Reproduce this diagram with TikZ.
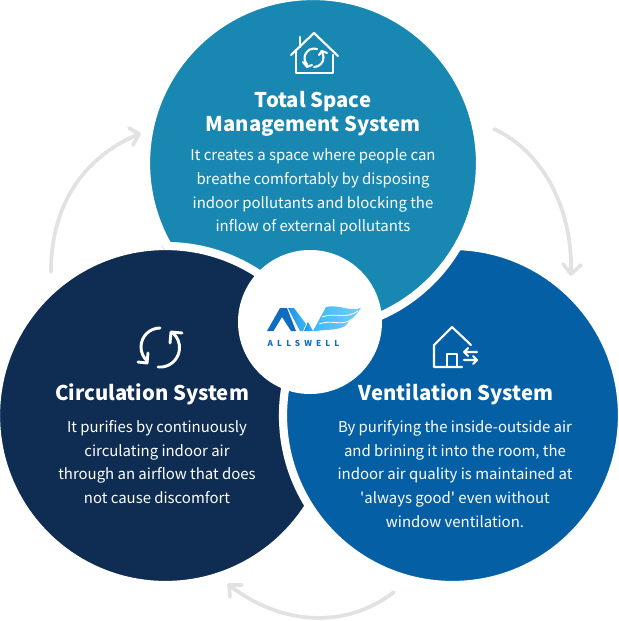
\documentclass[tikz,border=0pt]{standalone}
\usepackage{fontspec}
\setmainfont[Ligatures=TeXOff]{Noto Sans CJK KR}
\definecolor{topblue}{HTML}{1888B2}
\definecolor{darknavy}{HTML}{0F2D52}
\definecolor{midblue}{HTML}{045FA4}
\definecolor{arcgray}{HTML}{E2E2E2}
\definecolor{logoblue}{HTML}{0F6CC0}
\definecolor{logosky}{HTML}{3CB8F5}
\definecolor{logomid}{HTML}{1E90E6}
\tikzset{
    bigcircle/.style={circle, draw=white, line width=7pt, minimum size=#1, inner sep=0pt},
    titletext/.style={text=white, align=center, font=\fontsize{17.3}{20.4}\selectfont\bfseries},
    bodytext/.style={text=white, align=center, font=\fontsize{12.75}{20.35}\selectfont},
    cyclearc/.style={draw=arcgray, line width=3.2pt, line cap=round, line join=round},
    iconline/.style={draw=white, line width=1.8pt, line cap=round, line join=round},
    iconthick/.style={draw=white, line width=2.5pt, line cap=round, line join=round}
}
\begin{document}
\begin{tikzpicture}[x=0.03cm,y=-0.03cm]
    \useasboundingbox (0,0) rectangle (618,621);

    % The three circles, each one lying over the next
    \node[bigcircle=10.17cm, fill=darknavy] (leftcircle) at (165.5,415.5) {};
    \node[bigcircle=10.17cm, fill=midblue] (rightcircle) at (452.5,415.5) {};
    \node[bigcircle=10.02cm, fill=topblue] (topcircle) at (313,163) {};
    \begin{scope}
        \clip (313,163) circle (172);
        \node[bigcircle=10.17cm, fill=darknavy] (leftover) at (165.5,415.5) {};
    \end{scope}
    \node[circle, fill=white, minimum size=4.32cm, inner sep=0pt] (logocircle) at (310,322) {};

    % Grey arrows round the circles
    \coordinate (leftstart) at (51,272);
    \coordinate (lefttip) at (139,134);
    \coordinate (rightstart) at (494,129);
    \coordinate (righttip) at (571,274);
    \coordinate (bottomstart) at (394,592);
    \coordinate (bottomtip) at (229,585);
    \draw[cyclearc] (leftstart) .. controls (51,200) and (88,155) .. (lefttip);
    \draw[cyclearc] (129,128) -- (lefttip) -- (133,145);
    \draw[cyclearc] (rightstart) .. controls (540,150) and (573,205) .. (righttip);
    \draw[cyclearc] (563,264) -- (righttip) -- (581,265);
    \draw[cyclearc] (bottomstart) .. controls (345,630) and (280,625) .. (bottomtip);
    \draw[cyclearc] (230,597) -- (bottomtip) -- (242,585);

    % Top circle
    \node[titletext] (toptitle) at (313,114) {Total Space\\Management System};
    \node[bodytext] (topbody) at (313,192) {It creates a space where people can\\breathe comfortably by disposing\\indoor pollutants and blocking the\\inflow of external pollutants};
    % House icon on top
    \draw[iconline] (291,55) -- (314,33) -- (338,56);
    \draw[iconline] (296,50) -- (296,73) -- (333,73) -- (333,55);
    \draw[iconline] (300,47) -- (300,37);
    \draw[iconline] (317,49) arc (-72:-225:9.5);
    \draw[iconline] (314,67) arc (90:-41:9.5);
    \draw[iconline] (303,62) -- (307,67) -- (312,65);
    \draw[iconline] (319,55) -- (322,51) -- (327,53);

    % Left circle
    \node[titletext] (lefttitle) at (152,394) {Circulation System};
    \node[bodytext] (leftbody) at (157,462) {It purifies by continuously\\circulating indoor air\\through an airflow that does\\not cause discomfort};
    \draw[iconthick] (160,328) arc (-90:-227:19);
    \draw[iconthick] (158,367) arc (96:-52:19.5);
    \draw[iconthick] (138,362) -- (147,363) -- (148,353);
    \draw[iconthick] (170,343) -- (171,332) -- (182,333);

    % Right circle
    \node[titletext] (righttitle) at (456,394) {Ventilation System};
    \node[bodytext] (rightbody) at (455,474) {By purifying the inside-outside air\\and brining it into the room, the\\indoor air quality is maintained at\\'always good' even without\\window ventilation.};
    \draw[iconline] (471,345) -- (452,327) -- (434,345) -- (434,367) -- (462,367);
    \draw[iconline] (447,367) -- (447,354) -- (457,354) -- (457,367);
    \draw[iconline] (477,352) -- (464,352) (468,348) -- (464,352) -- (468,356);
    \draw[iconline] (464,360) -- (477,360) (473,356) -- (477,360) -- (473,364);

    % Logo
    \fill[logoblue] (267,331) -- (280,308) -- (287,308) -- (296,331) -- (291,331) -- (282,317) -- (273.5,331) -- cycle;
    \shade[left color=logomid, right color=logosky] (288,308) -- (294,308) -- (306,324) -- (303,331) -- (300,331) -- cycle;
    \shade[left color=logomid, right color=logosky] (304,331) -- (308,322) -- (313,331) -- cycle;
    \shade[left color=logosky, right color=logosky!70] (313,331) -- (326,307) .. controls (338,304) and (350,312) .. (361,308) .. controls (356,316) and (350,320) .. (345,326) .. controls (336,331) and (326,329) .. (317,331) -- cycle;
    \draw[white, line width=0.7pt] (322,317) .. controls (335,312) and (345,320) .. (358,311);
    \draw[white, line width=0.7pt] (319,324) .. controls (332,319) and (342,327) .. (352,319);
    \node[text=logoblue, font=\fontsize{7}{8}\selectfont\bfseries\addfontfeature{LetterSpace=50}] (logoname) at (303.5,343) {ALLSWELL};
\end{tikzpicture}
\end{document}
